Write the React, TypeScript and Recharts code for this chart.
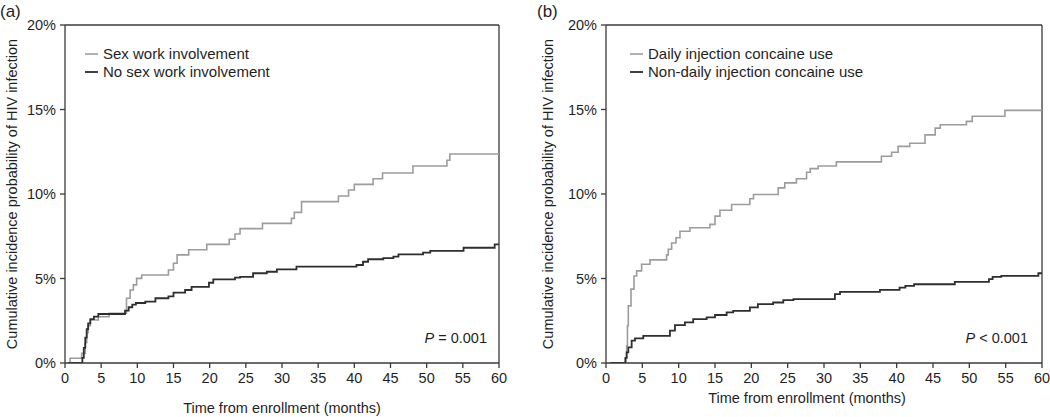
import React from 'react';
import { LineChart, Line, XAxis, YAxis, ReferenceLine } from 'recharts';

const xTicks = [0, 5, 10, 15, 20, 25, 30, 35, 40, 45, 50, 55, 60];
const yTicks = [0, 5, 10, 15, 20];

// Panel (a)
const sexWorkTime = [0.4, 0.7, 2.3, 2.8, 3.0, 3.2, 3.5, 4.6, 6.1, 8.5, 9.0, 9.45, 9.9, 10.6, 14.3, 15.0, 15.5, 17.1, 19.6, 22.7, 23.5, 24.2, 27.3, 31.3, 31.7, 32.7, 37.8, 39.2, 40.0, 42.6, 43.9, 48.1, 52.8, 53.2, 60];
const sexWorkPct = [0, 0.28, 0.57, 1.2, 1.8, 2.2, 2.54, 2.74, 2.94, 3.83, 4.32, 4.62, 5.01, 5.21, 5.5, 5.9, 6.4, 6.7, 7.02, 7.32, 7.63, 7.95, 8.26, 8.56, 8.91, 9.55, 9.88, 10.24, 10.57, 10.9, 11.24, 11.66, 12.0, 12.37, 12.37];

const noSexWorkTime = [0.4, 2.4, 2.6, 2.8, 3.0, 3.2, 3.5, 4.0, 4.6, 8.3, 8.8, 9.3, 9.8, 11.1, 12.5, 14.3, 15.0, 16.6, 17.5, 19.9, 20.5, 23.5, 24.2, 26.0, 27.9, 29.3, 32.0, 40.3, 41.2, 41.9, 44.0, 45.4, 46.1, 49.5, 50.5, 55.1, 59.4, 60];
const noSexWorkPct = [0, 0.3, 0.9, 1.5, 2.0, 2.35, 2.6, 2.75, 2.9, 3.1, 3.3, 3.45, 3.55, 3.63, 3.83, 3.94, 4.16, 4.32, 4.51, 4.75, 4.95, 5.05, 5.1, 5.31, 5.4, 5.54, 5.7, 5.8, 5.99, 6.14, 6.2, 6.29, 6.43, 6.53, 6.63, 6.82, 7.02, 7.02];

// Panel (b)
const dailyTime = [0.6, 2.6, 2.84, 2.95, 3.07, 3.44, 3.85, 4.22, 4.9, 6.05, 8.34, 8.57, 9.03, 9.63, 10.18, 11.55, 14.3, 15.0, 15.68, 17.29, 19.8, 20.3, 23.7, 24.6, 26.2, 27.6, 28.1, 29.2, 31.7, 37.9, 39.3, 40.2, 41.8, 43.9, 45.3, 46.0, 49.6, 50.4, 54.9, 60];
const dailyPct = [0, 0.3, 1.02, 2.2, 3.38, 4.37, 5.15, 5.45, 5.84, 6.1, 6.4, 6.73, 7.1, 7.41, 7.8, 8.0, 8.2, 8.69, 9.04, 9.38, 9.72, 9.97, 10.36, 10.66, 10.9, 11.29, 11.5, 11.66, 11.9, 12.23, 12.47, 12.82, 13.0, 13.5, 13.9, 14.1, 14.3, 14.6, 14.95, 14.95];

const nonDailyTime = [0.6, 2.7, 2.84, 3.07, 3.53, 3.99, 5.13, 8.8, 9.49, 10.86, 12.0, 13.85, 15.0, 16.6, 17.5, 19.8, 20.9, 23.0, 24.4, 25.8, 31.5, 32.2, 37.7, 40.4, 41.2, 42.4, 48.0, 52.7, 53.2, 54.4, 59.5, 60];
const nonDailyPct = [0, 0.3, 0.63, 0.92, 1.32, 1.46, 1.61, 1.91, 2.24, 2.4, 2.6, 2.7, 2.84, 2.99, 3.09, 3.29, 3.48, 3.58, 3.72, 3.78, 4.07, 4.21, 4.33, 4.46, 4.56, 4.66, 4.8, 4.96, 5.1, 5.15, 5.31, 5.31];

const toRows = (t: number[], p: number[]) => t.map((v, i) => ({ t: v, p: p[i] }));

const FONT = '"Liberation Sans", Arial, Helvetica, sans-serif';
const GRAY = '#9c9c9c';
const DARK = '#2e2e2e';
const AXIS = '#3a3a3a';
const TXT = '#1f1f1f';

const tickStyle = { fontSize: 14.5, fill: TXT, fontFamily: FONT };

function Panel(props: {
  left: number;
  width: number;
  rightMargin: number;
  grayRows: { t: number; p: number }[];
  darkRows: { t: number; p: number }[];
}) {
  const { left, width, rightMargin, grayRows, darkRows } = props;
  return (
    <div style={{ position: 'absolute', left, top: 0 }}>
      <LineChart width={width} height={417} margin={{ top: 25, right: rightMargin, bottom: 0, left: 0 }}>
        <XAxis
          type="number"
          dataKey="t"
          domain={[0, 60]}
          ticks={xTicks}
          interval={0}
          height={54}
          tickSize={5}
          tickMargin={5}
          tick={tickStyle}
          stroke={AXIS}
          strokeWidth={1.3}
          allowDataOverflow
        />
        <YAxis
          type="number"
          dataKey="p"
          domain={[0, 20]}
          ticks={yTicks}
          interval={0}
          width={65}
          tickSize={5}
          tickMargin={4}
          tick={tickStyle}
          tickFormatter={(v: number) => `${v}%`}
          stroke={AXIS}
          strokeWidth={1.3}
          allowDataOverflow
        />
        <ReferenceLine y={20} stroke={AXIS} strokeWidth={1.3} />
        <ReferenceLine x={60} stroke={AXIS} strokeWidth={1.3} />
        <Line data={grayRows} dataKey="p" type="stepAfter" stroke={GRAY} strokeWidth={1.6} dot={false} isAnimationActive={false} />
        <Line data={darkRows} dataKey="p" type="stepAfter" stroke={DARK} strokeWidth={1.8} dot={false} isAnimationActive={false} />
      </LineChart>
    </div>
  );
}

export default function App() {
  return (
    <div style={{ position: 'absolute', left: 0, top: 0, width: 1050, height: 417, background: '#fff', fontFamily: FONT }}>
      <Panel left={0} width={540} rightMargin={41} grayRows={toRows(sexWorkTime, sexWorkPct)} darkRows={toRows(noSexWorkTime, noSexWorkPct)} />
      <Panel left={541} width={509} rightMargin={8} grayRows={toRows(dailyTime, dailyPct)} darkRows={toRows(nonDailyTime, nonDailyPct)} />
      <svg width={1050} height={417} style={{ position: 'absolute', left: 0, top: 0, pointerEvents: 'none' }} fontFamily={FONT} fill={TXT}>
        <text x={0} y={17} fontSize={17}>(a)</text>
        <text x={537} y={17} fontSize={17}>(b)</text>
        <text transform="translate(17,194) rotate(-90)" textAnchor="middle" fontSize={14.5}>Cumulative incidence probability of HIV infection</text>
        <text transform="translate(553,194) rotate(-90)" textAnchor="middle" fontSize={14.5}>Cumulative incidence probability of HIV infection</text>
        <text x={282} y={413} textAnchor="middle" fontSize={14.5}>Time from enrollment (months)</text>
        <text x={807} y={403} textAnchor="middle" fontSize={14.5}>Time from enrollment (months)</text>
        <line x1={85} x2={98} y1={54} y2={54} stroke={GRAY} strokeWidth={1.6} />
        <text x={103} y={59} fontSize={15}>Sex work involvement</text>
        <line x1={85} x2={98} y1={72} y2={72} stroke={DARK} strokeWidth={1.8} />
        <text x={103} y={77} fontSize={15}>No sex work involvement</text>
        <line x1={630} x2={643} y1={54} y2={54} stroke={GRAY} strokeWidth={1.6} />
        <text x={648} y={59} fontSize={15}>Daily injection concaine use</text>
        <line x1={630} x2={643} y1={72} y2={72} stroke={DARK} strokeWidth={1.8} />
        <text x={648} y={77} fontSize={15}>Non-daily injection concaine use</text>
        <text x={487} y={343} textAnchor="end" fontSize={14.5}><tspan fontStyle="italic">P</tspan> = 0.001</text>
        <text x={1028} y={343} textAnchor="end" fontSize={14.5}><tspan fontStyle="italic">P</tspan> &lt; 0.001</text>
      </svg>
    </div>
  );
}
